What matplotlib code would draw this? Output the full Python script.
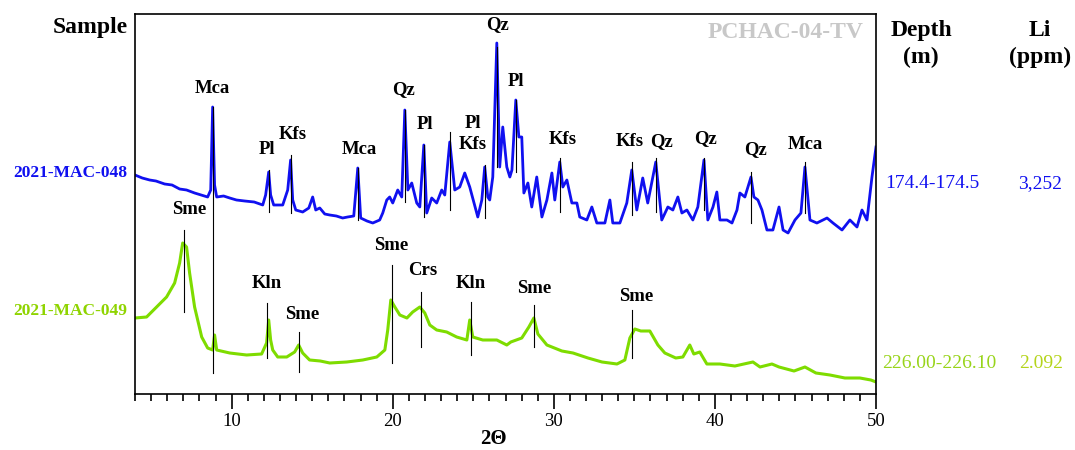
import numpy as np
import matplotlib
matplotlib.use("Agg")
import matplotlib.pyplot as plt
from matplotlib.ticker import MultipleLocator

plt.rcParams['font.family'] = ['Liberation Serif', 'DejaVu Serif']

# --- 2021-MAC-048 (blue), intensity with vertical offset (a.u.) ---
two_theta_048 = [4.0, 4.45, 4.91, 5.3, 5.84, 6.3, 6.77, 7.2, 7.70, 8.1, 8.51, 8.70, 8.82, 8.94, 9.07,
                 9.5, 9.88, 10.3, 10.81, 11.4, 11.93, 12.11,
                 12.30, 12.42, 12.61, 13.17, 13.48, 13.66, 13.79, 13.98, 14.41, 14.79, 15.03, 15.22,
                 15.47, 15.78, 16.09, 16.5, 16.89, 17.2, 17.58, 17.83, 18.01, 18.4, 18.76, 19.19, 19.38, 19.63, 19.81,
                 20.00, 20.31, 20.56, 20.75, 20.94, 21.18, 21.49, 21.68, 21.93, 22.11, 22.42, 22.73,
                 23.04, 23.23, 23.54, 23.85, 24.16, 24.47, 24.78, 25.28, 25.53, 25.71, 25.90, 26.02,
                 26.21, 26.46, 26.64, 26.83, 27.08, 27.27, 27.40, 27.64, 27.83, 28.01, 28.14, 28.39,
                 28.63, 28.94, 29.26, 29.57, 29.88, 30.06, 30.37, 30.56, 30.81, 31.12, 31.43, 31.61,
                 32.05, 32.36, 32.67, 33.17, 33.48, 33.66, 34.10, 34.53, 34.84, 35.15, 35.52, 35.83,
                 36.33, 36.70, 37.08, 37.39, 37.70, 37.95, 38.26, 38.63, 38.94, 39.32, 39.56, 39.88,
                 40.12, 40.31, 40.75, 41.06, 41.37, 41.55, 41.86, 42.24, 42.42, 42.67, 42.92, 43.23,
                 43.60, 43.98, 44.23, 44.54, 44.97, 45.34, 45.59, 45.90, 46.33, 46.96, 47.33, 47.89,
                 48.38, 48.82, 49.13, 49.44, 49.75, 50.0]
intensity_048 = [219, 216, 214, 213, 210, 209, 205, 204, 201, 199, 197, 204, 287, 209, 197,
                 198, 196, 194, 193, 192, 189, 199,
                 222, 199, 189, 189, 204, 234, 194, 184, 182, 186, 197, 184,
                 186, 180, 179, 178, 176, 177, 178, 226, 176, 173, 171, 174, 181, 194, 197,
                 191, 204, 197, 284, 204, 211, 191, 187, 249, 181, 196, 191,
                 204, 199, 252, 204, 207, 221, 207, 177, 194, 227, 197, 194,
                 217, 351, 227, 267, 227, 217, 224, 294, 257, 257, 201, 211,
                 187, 217, 177, 194, 221, 194, 232, 207, 214, 191, 191, 177,
                 174, 187, 171, 171, 194, 171, 171, 191, 224, 184, 216, 191,
                 232, 174, 187, 184, 197, 181, 184, 174, 187, 234, 174, 187,
                 202, 174, 174, 171, 184, 201, 197, 217, 197, 194, 184, 164,
                 164, 187, 164, 161, 174, 181, 227, 174, 171, 176, 171, 164,
                 174, 167, 184, 174, 217, 247]

# --- 2021-MAC-049 (green) ---
two_theta_049 = [4.0, 4.72, 5.34, 5.96, 6.46, 6.77, 6.96, 7.20, 7.39, 7.70, 8.14, 8.51, 8.82, 8.94,
                 9.07, 9.88, 10.4, 10.93, 11.86, 12.17, 12.30, 12.42, 12.55, 12.86, 13.42, 13.91, 14.16,
                 14.41, 14.84, 15.5, 16.09, 17.15, 18.14, 19.01, 19.51, 19.69, 19.88, 20.13, 20.44, 20.88,
                 21.24, 21.68, 21.99, 22.30, 22.73, 23.35, 23.97, 24.60, 24.78, 24.97, 25.59, 26.46,
                 27.08, 27.33, 28.01, 28.45, 28.76, 29.01, 29.57, 30.50, 31.19, 32.12, 32.99, 33.92,
                 34.41, 34.72, 35.03, 35.40, 35.96, 36.46, 36.89, 37.57, 38.01, 38.44, 38.69, 39.06,
                 39.50, 40.31, 41.24, 42.36, 42.80, 43.54, 43.98, 44.91, 45.59, 46.27, 47.14, 48.07,
                 49.00, 49.68, 50.0]
intensity_049 = [76, 77, 87, 97, 111, 131, 151, 147, 121, 87, 57, 46, 44, 59,
                 44, 41, 40, 39, 40, 51, 74, 54, 44, 37, 37, 42, 49,
                 41, 34, 33, 31, 32, 34, 37, 44, 64, 94, 87, 79, 76,
                 82, 87, 81, 69, 64, 62, 57, 54, 74, 57, 54, 54,
                 49, 52, 56, 67, 76, 60, 49, 43, 41, 36, 32, 30,
                 34, 56, 65, 63, 63, 49, 41, 36, 37, 49, 40, 42,
                 30, 30, 28, 32, 27, 30, 27, 23, 27, 21, 19, 16,
                 16, 14, 12]

# phase labels: name, 2theta of line, line bottom, line top, label x, label y
phases_048 = [("Mca", 8.82, 21, 287, 8.82, 297),
              ("Pl", 12.30, 182, 224, 12.17, 236),
              ("Kfs", 13.66, 181, 239, 13.78, 251),
              ("Mca", 17.83, 174, 226, 17.95, 236),
              ("Qz", 20.75, 192, 284, 20.68, 296),
              ("Pl", 21.93, 177, 249, 21.98, 261),
              ("Pl\nKfs", 23.54, 184, 262, 24.96, 260),
              ("", 25.71, 176, 229, 25.71, 0),
              ("Qz", 26.46, 227, 347, 26.52, 361),
              ("Pl", 27.64, 222, 294, 27.64, 304),
              ("Kfs", 30.37, 182, 236, 30.56, 246),
              ("Kfs", 34.84, 179, 232, 34.72, 244),
              ("Qz", 36.33, 182, 236, 36.70, 244),
              ("Qz", 39.32, 184, 236, 39.44, 247),
              ("Qz", 42.24, 171, 222, 42.49, 236),
              ("Mca", 45.59, 181, 232, 45.59, 241)]
phases_049 = [("Sme", 7.02, 82, 164, 7.39, 176),
              ("Kln", 12.17, 36, 91, 12.17, 102),
              ("Sme", 14.16, 22, 62, 14.35, 71),
              ("Sme", 19.93, 31, 129, 19.93, 140),
              ("Crs", 21.74, 47, 102, 21.86, 115),
              ("Kln", 24.84, 39, 92, 24.84, 102),
              ("Sme", 28.76, 47, 89, 28.76, 97),
              ("Sme", 34.84, 36, 84, 35.10, 89)]

samples = ["2021-MAC-048", "2021-MAC-049"]
depths = ["174.4-174.5", "226.00-226.10"]
li_ppm = ["3,252", "2.092"]
blue = "#1010f0"
green = "#7edc00"

W, H = 1075, 450
fig = plt.figure(figsize=(W / 100, H / 100), dpi=100)
ax = fig.add_axes([135 / W, 1 - 394 / H, (876 - 135) / W, (394 - 14) / H])

ax.plot(two_theta_048, intensity_048, color=blue, lw=2.0, solid_joinstyle='round')
ax.plot(two_theta_049, intensity_049, color=green, lw=2.2, solid_joinstyle='round')

for name, xl, y0, y1, tx, ty in phases_048 + phases_049:
    ax.plot([xl, xl], [y0, y1], color='black', lw=0.8)
    if name:
        ax.text(tx, ty, name, ha='center', va='bottom' if '\n' not in name else 'center',
                fontsize=13.5, fontweight='bold', linespacing=1.25)

ax.text(49.2, 361, "PCHAC-04-TV", ha='right', va='center', fontsize=17,
        fontweight='bold', color='#c8c8c8')

ax.set_xlim(4, 50)
ax.set_ylim(0, 380)
ax.set_yticks([])
ax.xaxis.set_major_locator(MultipleLocator(10))
ax.xaxis.set_minor_locator(MultipleLocator(1))
ax.tick_params(axis='x', which='major', direction='out', length=11, width=1.2,
               labelsize=13.5, pad=3)
ax.tick_params(axis='x', which='minor', direction='out', length=5, width=1.2)
for s in ax.spines.values():
    s.set_linewidth(1.2)
fig.text(493 / W, 1 - 439 / H, "2Θ", ha='center', va='center', fontsize=15, fontweight='bold')

# left column
fig.text(128 / W, 1 - 27 / H, "Sample", ha='right', va='center', fontsize=17, fontweight='bold')
fig.text(127 / W, 1 - 173 / H, samples[0], ha='right', va='center', fontsize=12.5,
         fontweight='bold', color=blue)
fig.text(127 / W, 1 - 311 / H, samples[1], ha='right', va='center', fontsize=12.5,
         fontweight='bold', color='#8fd400')

# right columns
fig.text(921 / W, 1 - 44 / H, "Depth\n(m)", ha='center', va='center', fontsize=17,
         fontweight='bold', linespacing=1.4)
fig.text(1040 / W, 1 - 44 / H, "Li\n(ppm)", ha='center', va='center', fontsize=17,
         fontweight='bold', linespacing=1.4)
fig.text(932 / W, 1 - 184 / H, depths[0], ha='center', va='center', fontsize=14, color=blue)
fig.text(1040 / W, 1 - 184 / H, li_ppm[0], ha='center', va='center', fontsize=14, color=blue)
fig.text(939 / W, 1 - 364 / H, depths[1], ha='center', va='center', fontsize=14, color='#98d41a')
fig.text(1041 / W, 1 - 364 / H, li_ppm[1], ha='center', va='center', fontsize=14, color='#b4d41a')

fig.savefig("out.png", dpi=100)
